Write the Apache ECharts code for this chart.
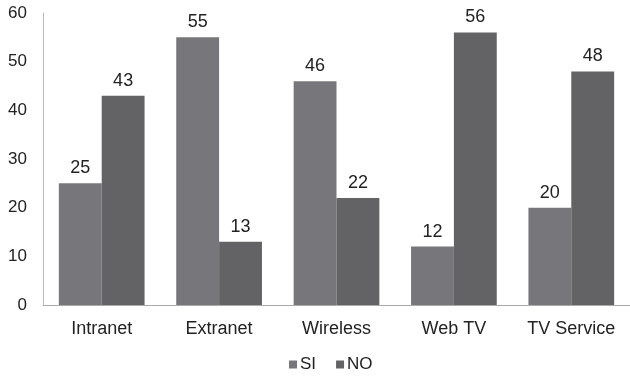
<!DOCTYPE html>
<html>
<head>
<meta charset="utf-8">
<script src="https://cdn.jsdelivr.net/npm/echarts@6/dist/echarts.min.js"></script>
<style>
html,body{margin:0;padding:0;background:#fff;}
#chart{width:630px;height:376px;}
</style>
</head>
<body>
<div id="chart"></div>
<script>
const categories = ['Intranet', 'Extranet', 'Wireless', 'Web TV', 'TV Service'];
const siValues = [25, 55, 46, 12, 20];
const noValues = [43, 13, 22, 56, 48];
const seriesNames = ['SI', 'NO'];

const chart = echarts.init(document.getElementById('chart'));
const font = 'Liberation Sans, Arial, sans-serif';
const labelStyle = { show: true, position: 'top', distance: 6, color: '#222', fontSize: 18, fontFamily: font };

chart.setOption({
  animation: false,
  grid: { left: 43, top: 13, width: 590, bottom: 71 },
  legend: {
    data: seriesNames,
    top: 351,
    left: 284,
    itemWidth: 8,
    itemHeight: 8,
    itemGap: 20,
    icon: 'rect',
    textStyle: { color: '#222', fontSize: 17, fontFamily: font, padding: [0, 0, 0, -2] }
  },
  xAxis: {
    type: 'category',
    data: categories,
    axisLine: { lineStyle: { color: '#aaa', width: 1 } },
    axisTick: { show: false },
    axisLabel: { color: '#222', fontSize: 18, fontFamily: font, margin: 15 }
  },
  yAxis: {
    type: 'value',
    min: 0,
    max: 60,
    interval: 10,
    splitLine: { show: false },
    axisLine: { show: true, lineStyle: { color: '#bbb', width: 1 } },
    axisTick: { show: false },
    axisLabel: { color: '#222', fontSize: 17, fontFamily: font, margin: 16 }
  },
  series: [
    {
      name: seriesNames[0], type: 'bar', data: siValues,
      barGap: '0%', barCategoryGap: '27%',
      itemStyle: { color: '#77777b' },
      label: labelStyle
    },
    {
      name: seriesNames[1], type: 'bar', data: noValues,
      itemStyle: { color: '#636365' },
      label: labelStyle
    }
  ]
});
</script>
</body>
</html>
